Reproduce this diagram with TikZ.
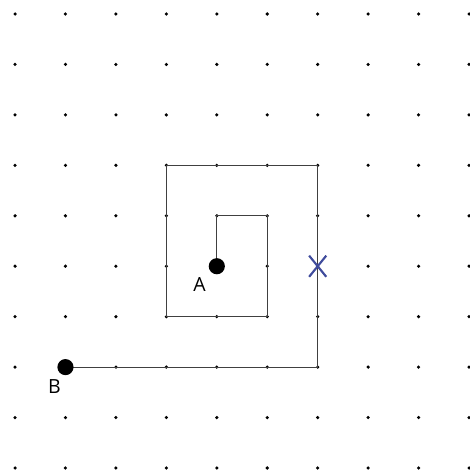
\documentclass[tikz,border=0pt]{standalone}
\usepackage{fontspec}
\setmainfont{Open Sans}
\usetikzlibrary{calc}
\definecolor{crossblue}{HTML}{3F4B9C}
\begin{document}
\begin{tikzpicture}[scale=1]
      \useasboundingbox (-0.298,-0.099) rectangle (9.01,9.278);
      % Grid of dots
      \foreach \i in {0,...,9} {
        \foreach \j in {0,...,9} {
          \coordinate (d-\i-\j) at (\i,\j);
          \fill (d-\i-\j) circle (0.035);
        }
      }
      % Spiral path from A to B
      \draw[black!75, line width=0.6pt] (d-4-4) -- (d-4-5) -- (d-5-5) -- (d-5-3) -- (d-3-3) -- (d-3-6) -- (d-6-6) -- (d-6-2) -- (d-1-2);
      % Points A and B
      \fill (d-4-4) circle (0.16);
      \fill (d-1-2) circle (0.16);
      \node[font=\fontsize{11}{13}\selectfont] (labA) at (3.66,3.64) {A};
      \node[font=\fontsize{11}{13}\selectfont] (labB) at (0.78,1.62) {B};
      % Cross on the path
      \draw[crossblue, line width=1.2pt] ($(d-6-4)+(-0.17,-0.21)$) -- ($(d-6-4)+(0.17,0.21)$);
      \draw[crossblue, line width=1.2pt] ($(d-6-4)+(-0.17,0.21)$) -- ($(d-6-4)+(0.17,-0.21)$);
    \end{tikzpicture}
\end{document}
